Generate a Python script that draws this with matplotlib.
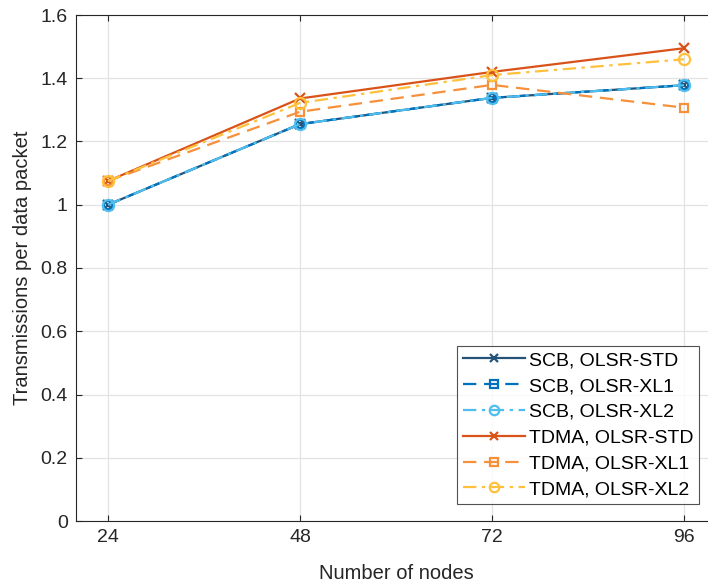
import matplotlib.pyplot as plt
import numpy as np

plt.rcParams['font.family'] = ['Liberation Sans', 'DejaVu Sans']

nodes = [24, 48, 72, 96]

scb_std = [1.000, 1.255, 1.338, 1.378]
scb_xl1 = [1.000, 1.255, 1.338, 1.378]
scb_xl2 = [1.000, 1.255, 1.338, 1.378]
tdma_std = [1.075, 1.336, 1.420, 1.495]
tdma_xl1 = [1.075, 1.294, 1.379, 1.307]
tdma_xl2 = [1.075, 1.322, 1.410, 1.460]

labels = ['SCB, OLSR-STD', 'SCB, OLSR-XL1', 'SCB, OLSR-XL2',
          'TDMA, OLSR-STD', 'TDMA, OLSR-XL1', 'TDMA, OLSR-XL2']

fig = plt.figure(figsize=(7.08, 5.84), dpi=100)
# right edge of the box is cropped off in the reference
ax = fig.add_axes([76/708, 63/584, (716-76)/708, (521-15)/584])

series = [scb_std, scb_xl1, scb_xl2, tdma_std, tdma_xl1, tdma_xl2]
colors = ['#235478', '#0072BD', '#4DBEEE', '#D95319', '#F7903A', '#FFC13B']
styles = ['-', (0, (6, 3.5)), (0, (6, 2.5, 1.5, 2.5)), '-', (0, (6, 3.5)), (0, (6, 2.5, 1.5, 2.5))]
markers = ['x', 's', 'o', 'x', 's', 'o']
msizes = [7, 6, 8, 7, 6, 8]

for y, c, ls, m, ms, lab in zip(series, colors, styles, markers, msizes, labels):
    ax.plot(nodes, y, color=c, linestyle=ls, marker=m, markersize=ms,
            markerfacecolor='none', markeredgewidth=1.6, linewidth=1.6, label=lab)

ax.set_xlim(20, 100)
ax.set_ylim(0, 1.6)
ax.set_xticks(nodes)
ax.set_yticks(np.arange(0, 1.61, 0.2))
ax.set_yticklabels(['0', '0.2', '0.4', '0.6', '0.8', '1', '1.2', '1.4', '1.6'])

ax.grid(True, color='#e3e3e3', linewidth=0.9)
ax.set_axisbelow(True)
for s in ax.spines.values():
    s.set_color('#262626')
    s.set_linewidth(0.8)
ax.tick_params(direction='in', length=4, width=0.8, colors='#262626',
               labelsize=14, top=True, right=True, pad=6)

ax.set_xlabel('Number of nodes', fontsize=14.5, color='#262626', labelpad=13)
ax.set_ylabel('Transmissions per data packet', fontsize=14.5, color='#262626', labelpad=6)

leg = ax.legend(loc='lower right', bbox_to_anchor=((699-76)/640, 17/506),
                fontsize=14, frameon=True, fancybox=False, handlelength=3.2,
                borderpad=0.3, labelspacing=0.42, handletextpad=0.2,
                borderaxespad=0, markerscale=0.85)
leg.get_frame().set_edgecolor('#262626')
leg.get_frame().set_linewidth(0.8)

fig.savefig('out.png', dpi=100)
